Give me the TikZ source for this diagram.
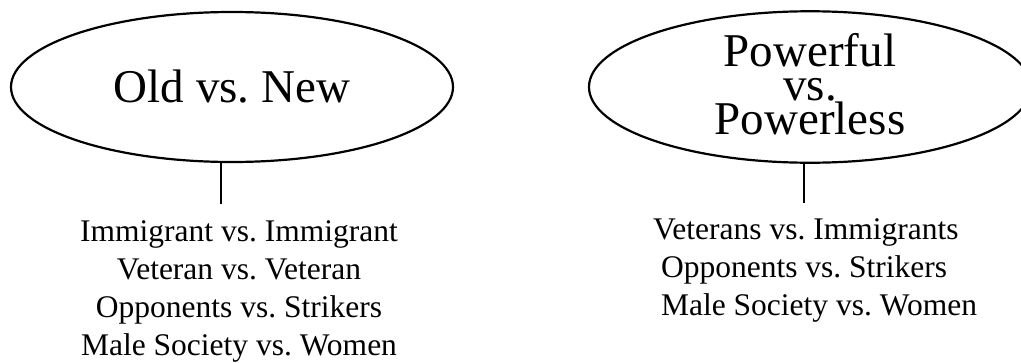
\documentclass[tikz,border=0pt]{standalone}
\usepackage{fontspec}
\setmainfont{Liberation Serif}
\usetikzlibrary{shapes.geometric,positioning}
\frenchspacing

\tikzset{
  conflict/.style={ellipse,draw,line width=2.2pt,minimum width=442pt,minimum height=150pt,
    inner sep=0pt,align=center,font=\fontsize{47}{34}\selectfont},
  pairs/.style={inner sep=0pt,font=\fontsize{31.5}{38}\selectfont},
  link/.style={line width=2.2pt},
}

\begin{document}
\begin{tikzpicture}[x=1pt,y=-1pt]
\useasboundingbox (0,0) rectangle (1021,362);
% the two conflicts
\node[conflict] (oldnew) at (232,87) {Old vs. New};
\node[conflict,text depth=6pt] (power) at (810,87) {Powerful\\vs.\\Powerless};
% stems
\coordinate (oldend) at (221,204);
\coordinate (powerend) at (804,203);
\draw[link] (oldnew.south -| oldend) -- (oldend);
\draw[link] (power.south -| powerend) -- (powerend);
% the pairs under each one (base = last line)
\node[pairs,align=center,anchor=base] (oldlist) at (239,355)
  {Immigrant vs. Immigrant\\Veteran vs. Veteran\\Opponents vs. Strikers\\Male Society vs. Women};
\node[pairs,align=left,anchor=base west] (powerlist) at (653,315)
  {Veterans vs. Immigrants\\\hspace*{.25em}Opponents vs. Strikers\\\hspace*{.25em}Male Society vs. Women};
\end{tikzpicture}
\end{document}
